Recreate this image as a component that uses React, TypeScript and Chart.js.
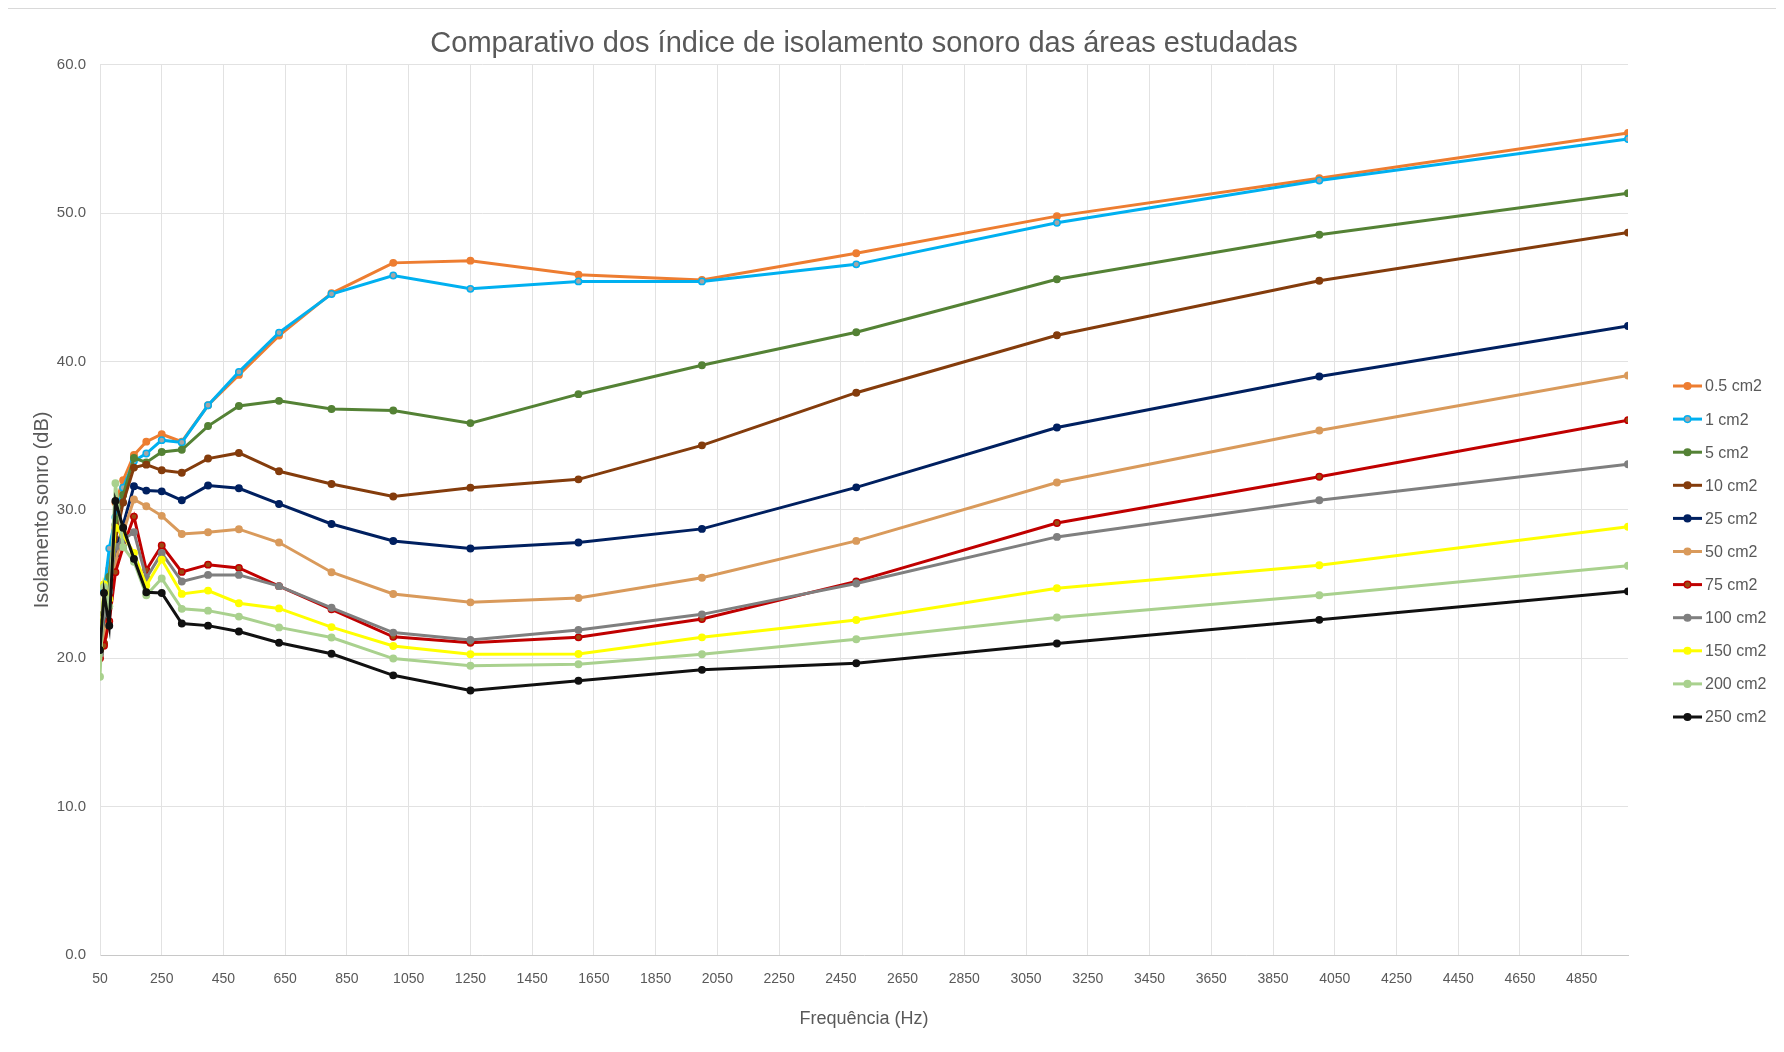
import React, { useEffect, useRef } from "react";
import { Chart, registerables } from "chart.js";

Chart.register(...registerables);

// ---- data ----
const frequencies = [50, 63, 80, 100, 125, 160, 200, 250, 315, 400, 500, 630, 800, 1000, 1250, 1600, 2000, 2500, 3150, 4000, 5000];

const seriesLabels = ["0.5 cm2", "1 cm2", "5 cm2", "10 cm2", "25 cm2", "50 cm2", "75 cm2", "100 cm2", "150 cm2", "200 cm2", "250 cm2"];

const area0_5 = [21.5, 21.0, 26.0, 30.5, 32.0, 33.7, 34.6, 35.1, 34.6, 37.05, 39.1, 41.75, 44.6, 46.65, 46.8, 45.85, 45.5, 47.3, 49.8, 52.35, 55.4];
const area1 = [20.4, 24.5, 27.4, 29.5, 31.5, 33.3, 33.8, 34.7, 34.55, 37.05, 39.3, 41.95, 44.55, 45.8, 44.9, 45.4, 45.4, 46.55, 49.35, 52.2, 55.0];
const area5 = [20.8, 23.0, 25.5, 29.0, 31.0, 33.5, 33.2, 33.9, 34.05, 35.65, 37.0, 37.35, 36.8, 36.7, 35.85, 37.8, 39.75, 41.97, 45.55, 48.55, 51.35];
const area10 = [21.1, 21.0, 24.0, 28.0, 30.5, 32.85, 33.05, 32.67, 32.5, 33.46, 33.84, 32.6, 31.75, 30.9, 31.5, 32.06, 34.35, 37.9, 41.77, 45.44, 48.69];
const area25 = [20.6, 22.5, 24.0, 27.0, 29.0, 31.6, 31.3, 31.25, 30.65, 31.64, 31.46, 30.4, 29.05, 27.9, 27.4, 27.8, 28.72, 31.52, 35.55, 38.99, 42.39];
const area50 = [20.3, 21.5, 23.5, 26.5, 28.5, 30.7, 30.25, 29.6, 28.38, 28.49, 28.7, 27.8, 25.8, 24.33, 23.77, 24.06, 25.43, 27.91, 31.85, 35.35, 39.06];
const area75 = [20.0, 20.85, 22.5, 25.8, 27.5, 29.55, 25.95, 27.6, 25.82, 26.31, 26.09, 24.86, 23.3, 21.45, 21.05, 21.41, 22.65, 25.18, 29.12, 32.23, 36.05];
const area100 = [20.3, 23.0, 24.5, 27.5, 28.0, 28.5, 25.4, 27.1, 25.17, 25.62, 25.62, 24.86, 23.4, 21.73, 21.23, 21.91, 22.96, 25.04, 28.18, 30.65, 33.08];
const area150 = [20.6, 25.0, 24.0, 28.8, 28.3, 27.1, 24.9, 26.65, 24.34, 24.56, 23.71, 23.36, 22.1, 20.83, 20.27, 20.29, 21.41, 22.58, 24.72, 26.27, 28.86];
const area200 = [18.75, 24.8, 23.5, 31.8, 27.5, 26.5, 24.25, 25.38, 23.33, 23.21, 22.81, 22.08, 21.4, 19.98, 19.5, 19.6, 20.27, 21.28, 22.75, 24.25, 26.24];
const area250 = [20.56, 24.4, 22.2, 30.6, 28.8, 26.7, 24.45, 24.4, 22.34, 22.2, 21.8, 21.05, 20.3, 18.85, 17.83, 18.48, 19.22, 19.66, 21.0, 22.59, 24.51];

const xTickValues = [50, 250, 450, 650, 850, 1050, 1250, 1450, 1650, 1850, 2050, 2250, 2450, 2650, 2850, 3050, 3250, 3450, 3650, 3850, 4050, 4250, 4450, 4650, 4850];
const yTickValues = [0, 10, 20, 30, 40, 50, 60];

// ---- styles ----
const allSeries = [area0_5, area1, area5, area10, area25, area50, area75, area100, area150, area200, area250];
const lineColors = ["#ED7D31", "#00B0F0", "#548235", "#843C0C", "#002060", "#D99A5B", "#C00000", "#7F7F7F", "#FFFF00", "#A9D18E", "#111111"];
const markerFills = ["#ED7D31", "#A5A5A5", "#548235", "#843C0C", "#002060", "#D99A5B", "#9C4A12", "#7F7F7F", "#FFFF00", "#A9D18E", "#111111"];

const FONT = "'Liberation Sans', Arial, sans-serif";
const TEXT = "#595959";

const CANVAS_W = 1769;
const CANVAS_H = 1036;

const sideLegend = {
  id: "sideLegend",
  afterDraw(chart: any) {
    const ctx = chart.ctx;
    const area = chart.chartArea;
    const x0 = area.right + 45;
    const x1 = x0 + 29;
    const top = 377;
    const step = 33.1;
    ctx.save();
    chart.data.datasets.forEach((ds: any, i: number) => {
      const y = top + i * step;
      ctx.strokeStyle = ds.borderColor;
      ctx.lineWidth = 3;
      ctx.beginPath();
      ctx.moveTo(x0, y);
      ctx.lineTo(x1, y);
      ctx.stroke();
      ctx.beginPath();
      ctx.arc((x0 + x1) / 2, y, 3.3, 0, Math.PI * 2);
      ctx.fillStyle = ds.pointBackgroundColor;
      ctx.fill();
      ctx.lineWidth = 1.5;
      ctx.strokeStyle = ds.pointBorderColor;
      ctx.stroke();
      ctx.fillStyle = TEXT;
      ctx.font = `16px ${FONT}`;
      ctx.textAlign = "left";
      ctx.textBaseline = "middle";
      ctx.fillText(ds.label, x1 + 3, y + 1);
    });
    ctx.restore();
  },
};

export default function App() {
  const canvasRef = useRef<HTMLCanvasElement | null>(null);

  useEffect(() => {
    if (!canvasRef.current) return;
    const n = allSeries.length;
    const datasets = allSeries.map((vals, i) => ({
      label: seriesLabels[i],
      data: frequencies.map((f, j) => ({ x: f, y: vals[j] })),
      borderColor: lineColors[i],
      backgroundColor: lineColors[i],
      pointBackgroundColor: markerFills[i],
      pointBorderColor: lineColors[i],
      borderWidth: 3,
      pointRadius: 3.2,
      pointBorderWidth: 1.5,
      pointHoverRadius: 3.2,
      tension: 0,
      fill: false,
      order: n - i,
    }));

    const chart = new Chart(canvasRef.current, {
      type: "line",
      data: { datasets },
      plugins: [sideLegend],
      options: {
        animation: false,
        responsive: false,
        maintainAspectRatio: false,
        layout: { padding: { left: 0, right: 148, top: 0, bottom: 0 } },
        plugins: {
          legend: { display: false },
          tooltip: { enabled: false },
          title: {
            display: true,
            fullSize: false,
            text: "Comparativo dos índice de isolamento sonoro das áreas estudadas",
            color: TEXT,
            font: { family: FONT, size: 29, weight: "normal" },
            padding: { top: 18, bottom: 3 },
          },
        },
        scales: {
          x: {
            type: "linear",
            min: 50,
            max: 5000,
            afterBuildTicks: (scale: any) => {
              scale.ticks = xTickValues.map((v) => ({ value: v }));
            },
            afterFit: (scale: any) => {
              scale.height = 90;
            },
            grid: { color: "#e2e2e2", lineWidth: 1, drawTicks: false },
            border: { color: "#c8c8c8", width: 1 },
            ticks: {
              color: TEXT,
              font: { family: FONT, size: 14 },
              padding: 16,
              maxRotation: 0,
              autoSkip: false,
              callback: (v: any) => String(v),
            },
            title: {
              display: true,
              text: "Frequência (Hz)",
              color: TEXT,
              font: { family: FONT, size: 18 },
              padding: { top: 0, bottom: 15 },
            },
          },
          y: {
            type: "linear",
            min: 0,
            max: 60,
            afterBuildTicks: (scale: any) => {
              scale.ticks = yTickValues.map((v) => ({ value: v }));
            },
            afterFit: (scale: any) => {
              scale.width = 93;
            },
            grid: { color: "#e2e2e2", lineWidth: 1, drawTicks: false },
            border: { color: "#e2e2e2", width: 1 },
            ticks: {
              color: TEXT,
              font: { family: FONT, size: 15 },
              padding: 14,
              callback: (v: any) => Number(v).toFixed(1),
            },
            title: {
              display: true,
              text: "Isolamento sonro (dB)",
              color: TEXT,
              font: { family: FONT, size: 20 },
              padding: { top: 23, bottom: 0 },
            },
          },
        },
      },
    });
    return () => chart.destroy();
  }, []);

  return (
    <div
      style={{
        width: CANVAS_W,
        height: CANVAS_H,
        marginLeft: -2,
        borderTop: "1px solid #d9d9d9",
        borderLeft: "1px solid #d9d9d9",
        background: "#ffffff",
      }}
    >
      <canvas ref={canvasRef} width={CANVAS_W} height={CANVAS_H} />
    </div>
  );
}
